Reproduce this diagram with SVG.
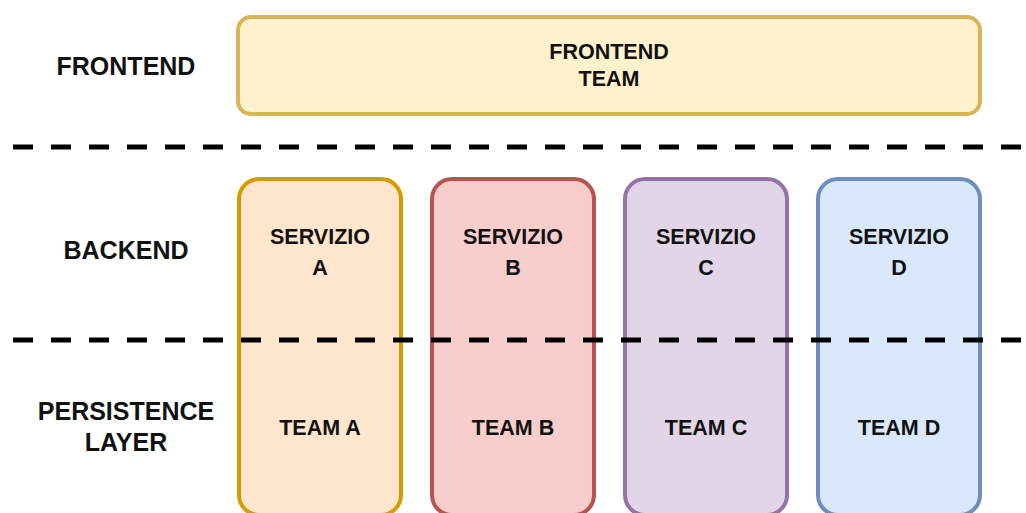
<svg xmlns="http://www.w3.org/2000/svg" width="1026" height="513" viewBox="0 0 1026 513">
  <style>
    .lbl { font-family: "Liberation Sans", Arial, sans-serif; font-weight: bold; font-size: 25px; fill: #111; text-anchor: middle; dominant-baseline: central; }
    .txt { font-family: "Liberation Sans", Arial, sans-serif; font-weight: bold; font-size: 21.5px; fill: #111; text-anchor: middle; dominant-baseline: central; }
    .box { stroke-width: 4; }
    .sep { stroke: #000; stroke-width: 5; stroke-dasharray: 20 18; fill: none; }
  </style>
  <rect width="1026" height="513" fill="#fff"/>

  <!-- layer labels -->
  <g id="label-frontend"><text class="lbl" x="126" y="66">FRONTEND</text></g>
  <g id="label-backend"><text class="lbl" x="126" y="250">BACKEND</text></g>
  <g id="label-persistence">
    <text class="lbl" x="126" y="411">PERSISTENCE</text>
    <text class="lbl" x="126" y="442">LAYER</text>
  </g>

  <!-- frontend team -->
  <g id="frontend-team">
    <rect class="box" x="238" y="17" width="742" height="97" rx="13" fill="#fff2cc" stroke="#d6b656"/>
    <text class="txt" x="609" y="52">FRONTEND</text>
    <text class="txt" x="609" y="79">TEAM</text>
  </g>

  <!-- service columns -->
  <g id="service-a">
    <rect class="box" x="239" y="179" width="162" height="336" rx="20" fill="#ffe6cc" stroke="#d79b00"/>
    <text class="txt" x="320" y="237">SERVIZIO</text>
    <text class="txt" x="320" y="268">A</text>
    <text class="txt" x="320" y="428">TEAM A</text>
  </g>
  <g id="service-b">
    <rect class="box" x="432" y="179" width="162" height="336" rx="20" fill="#f8cecc" stroke="#b85450"/>
    <text class="txt" x="513" y="237">SERVIZIO</text>
    <text class="txt" x="513" y="268">B</text>
    <text class="txt" x="513" y="428">TEAM B</text>
  </g>
  <g id="service-c">
    <rect class="box" x="625" y="179" width="162" height="336" rx="20" fill="#e1d5e7" stroke="#9673a6"/>
    <text class="txt" x="706" y="237">SERVIZIO</text>
    <text class="txt" x="706" y="268">C</text>
    <text class="txt" x="706" y="428">TEAM C</text>
  </g>
  <g id="service-d">
    <rect class="box" x="818" y="179" width="162" height="336" rx="20" fill="#dae8fc" stroke="#6c8ebf"/>
    <text class="txt" x="899" y="237">SERVIZIO</text>
    <text class="txt" x="899" y="268">D</text>
    <text class="txt" x="899" y="428">TEAM D</text>
  </g>

  <!-- layer separators -->
  <g id="connectors">
    <line class="sep" x1="13" y1="147" x2="1026" y2="147"/>
    <line class="sep" x1="13" y1="340" x2="1026" y2="340"/>
  </g>
</svg>
